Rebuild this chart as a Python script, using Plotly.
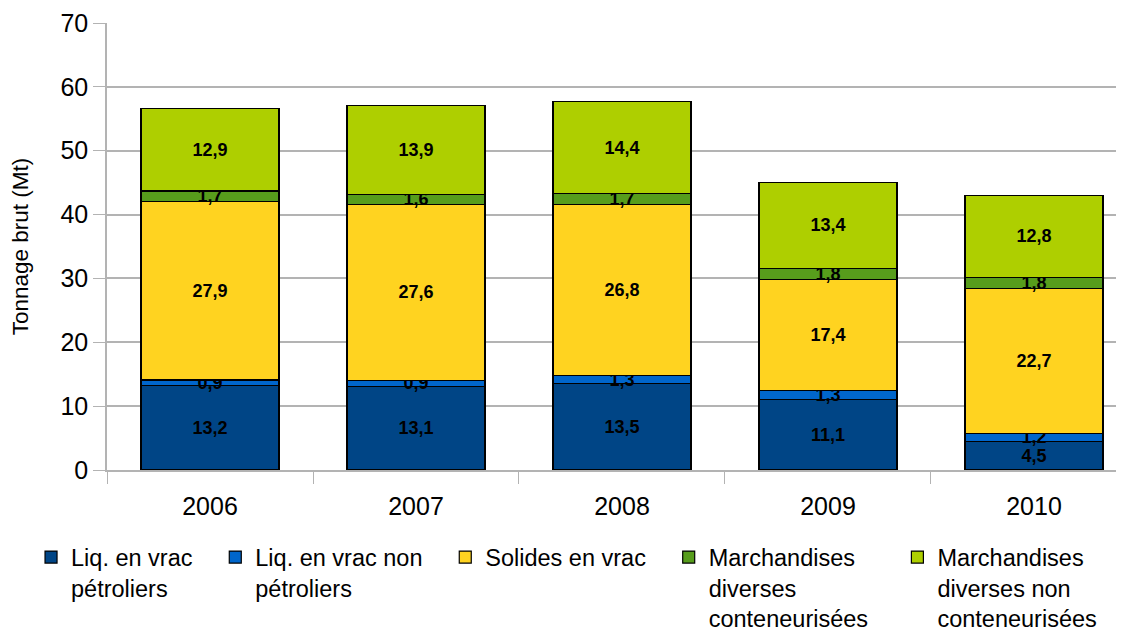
import plotly.graph_objects as go

years = ["2006", "2007", "2008", "2009", "2010"]

liq_petroliers = [13.2, 13.1, 13.5, 11.1, 4.5]
liq_non_petroliers = [0.9, 0.9, 1.3, 1.3, 1.2]
solides_vrac = [27.9, 27.6, 26.8, 17.4, 22.7]
march_conteneurisees = [1.7, 1.6, 1.7, 1.8, 1.8]
march_non_conteneurisees = [12.9, 13.9, 14.4, 13.4, 12.8]

# trailing no-break / thin spaces widen the legend entries a little
pad2 = "\u00a0\u00a0\u2009"
pad3 = "\u00a0\u00a0\u00a0\u2009"

series = [
    ("Liq. en vrac" + pad2 + "<br>pétroliers", liq_petroliers, "#004586"),
    ("Liq. en vrac non" + pad2 + "<br>pétroliers", liq_non_petroliers, "#0066cc"),
    ("Solides en vrac" + pad2, solides_vrac, "#ffd320"),
    ("Marchandises<br>diverses<br>conteneurisées" + pad3, march_conteneurisees, "#579d1c"),
    ("Marchandises<br>diverses non<br>conteneurisées", march_non_conteneurisees, "#aecf00"),
]

font = "Liberation Sans, Arial, sans-serif"

fig = go.Figure()
for name, values, color in series:
    fig.add_trace(go.Bar(
        x=years,
        y=values,
        name=name,
        marker=dict(color=color, line=dict(color="black", width=1.2)),
        width=0.67,
        texttemplate="%{y:.1f}",
        textposition="inside",
        insidetextanchor="middle",
        constraintext="none",
        textangle=0,
        textfont=dict(family=font, size=18, color="black", weight="bold"),
    ))

# the page body has an 8px margin, so margins are shifted by 8px
fig.update_layout(
    barmode="stack",
    width=1124,
    height=634,
    separators=", ",
    plot_bgcolor="white",
    paper_bgcolor="white",
    font=dict(family=font, color="black"),
    margin=dict(l=99, r=8, t=15, b=172, autoexpand=False),
    legend=dict(
        orientation="h",
        x=-0.0747, xref="paper",
        y=-0.146, yanchor="top",
        xanchor="left",
        valign="top",
        font=dict(family=font, size=23.5),
        traceorder="normal",
    ),
    showlegend=True,
)

fig.update_xaxes(
    type="category",
    range=[-0.5, 4.437],
    automargin=False,
    showgrid=False,
    showline=True,
    linecolor="#b3b3b3",
    linewidth=2,
    ticks="outside",
    tickson="boundaries",
    ticklen=12,
    tickcolor="#b3b3b3",
    ticklabelstandoff=13,
    tickfont=dict(family=font, size=25),
)

fig.update_yaxes(
    range=[0, 70],
    dtick=10,
    automargin=False,
    showgrid=True,
    gridcolor="#b3b3b3",
    gridwidth=1.5,
    showline=True,
    linecolor="#b3b3b3",
    linewidth=1.5,
    ticks="outside",
    ticklen=12,
    tickcolor="#b3b3b3",
    tickfont=dict(family=font, size=25),
    zeroline=False,
    title=dict(text="Tonnage brut (Mt)", font=dict(family=font, size=22.5), standoff=30),
)

fig.write_html("out.html")
